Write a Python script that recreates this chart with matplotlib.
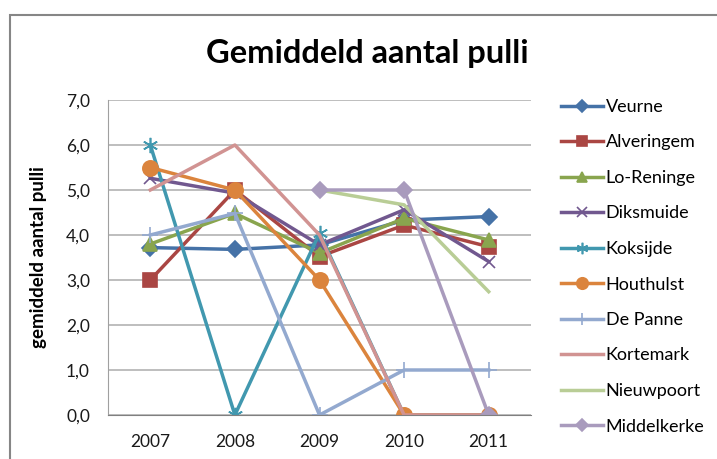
import numpy as np
import matplotlib
matplotlib.use("Agg")
import matplotlib.pyplot as plt
from matplotlib.patches import Rectangle
from matplotlib.ticker import FuncFormatter

plt.rcParams['font.family'] = ['Lato', 'DejaVu Sans']

years = ["2007", "2008", "2009", "2010", "2011"]
nan = np.nan
veurne = [3.72, 3.68, 3.78, 4.33, 4.41]
alveringem = [3.0, 5.0, 3.52, 4.22, 3.74]
lo_reninge = [3.8, 4.48, 3.6, 4.37, 3.89]
diksmuide = [5.26, 4.93, 3.78, 4.56, 3.41]
koksijde = [6.0, 0.0, 4.04, 0.0, 0.0]
houthulst = [5.5, 5.0, 3.0, 0.0, 0.0]
de_panne = [4.0, 4.48, 0.0, 1.0, 1.0]
kortemark = [5.0, 6.0, 4.0, 0.0, 0.0]
nieuwpoort = [nan, nan, 5.0, 4.67, 2.74]
middelkerke = [nan, nan, 5.0, 5.0, 0.0]

names = ["Veurne", "Alveringem", "Lo-Reninge", "Diksmuide", "Koksijde",
         "Houthulst", "De Panne", "Kortemark", "Nieuwpoort", "Middelkerke"]
series = [veurne, alveringem, lo_reninge, diksmuide, koksijde,
          houthulst, de_panne, kortemark, nieuwpoort, middelkerke]
colors = ["#4572A7", "#AA4643", "#89A54E", "#71588F", "#4198AF",
          "#DB843D", "#93A9CF", "#D19392", "#B9CD96", "#A99BBD"]
markers = ["D", "s", "^", "x", (6, 2, 0), "o", "+", None, None, "D"]
msizes = [8, 9.5, 9.5, 9, 11, 11, 11, 0, 0, 8]

W, H = 717, 459
fig = plt.figure(figsize=(W / 100, H / 100), dpi=100)

# chart border
fig.patches.append(Rectangle((10 / W, -0.1), 1.2, 1 - 15 / H + 0.1,
                             transform=fig.transFigure, fill=False,
                             edgecolor="#868686", linewidth=1.5))

ax = fig.add_axes([108 / W, 1 - 415 / H, (531 - 108) / W, (415 - 100) / H])
x = np.arange(len(years))
for vals, name, c, m, ms in zip(series, names, colors, markers, msizes):
    kw = {}
    if m is not None:
        kw = dict(marker=m, markersize=ms, markerfacecolor=c,
                  markeredgecolor=c, markeredgewidth=1.2)
    ax.plot(x, vals, color=c, linewidth=2.5, label=name,
            solid_joinstyle="round", **kw)

ax.set_xlim(-0.5, len(years) - 0.5)
ax.set_ylim(0, 7)
ax.set_xticks(x)
ax.set_xticklabels(years)
ax.set_yticks(np.arange(0, 8, 1))
ax.yaxis.set_major_formatter(FuncFormatter(lambda v, p: f"{v:.1f}".replace(".", ",")))
ax.tick_params(axis="both", length=0, labelsize=12.5, colors="#1a1a1a")
ax.tick_params(axis="y", pad=13)
ax.tick_params(axis="x", pad=13.5)
ax.grid(axis="y", color="#B3B3B3", linewidth=1.2)
ax.set_axisbelow(True)
for s in ["top", "right"]:
    ax.spines[s].set_visible(False)
ax.spines["left"].set_color("#A0A0A0")
ax.spines["bottom"].set_color("#808080")

ax.set_ylabel("gemiddeld aantal pulli", fontsize=13.5, fontweight="bold")
ax.yaxis.set_label_coords(-(108 - 47) / (531 - 108), 0.5)

fig.text(367 / W, 1 - 54 / H, "Gemiddeld aantal pulli", ha="center",
         va="center", fontsize=23.5, fontweight="bold")

leg = fig.legend(loc="upper left", bbox_to_anchor=(561 / W, 1 - 99 / H),
                 frameon=False, fontsize=13, labelspacing=1.08,
                 handlelength=2.3, handletextpad=0.17, borderpad=0,
                 borderaxespad=0, markerscale=0.75)

fig.savefig("out.png", dpi=100)
